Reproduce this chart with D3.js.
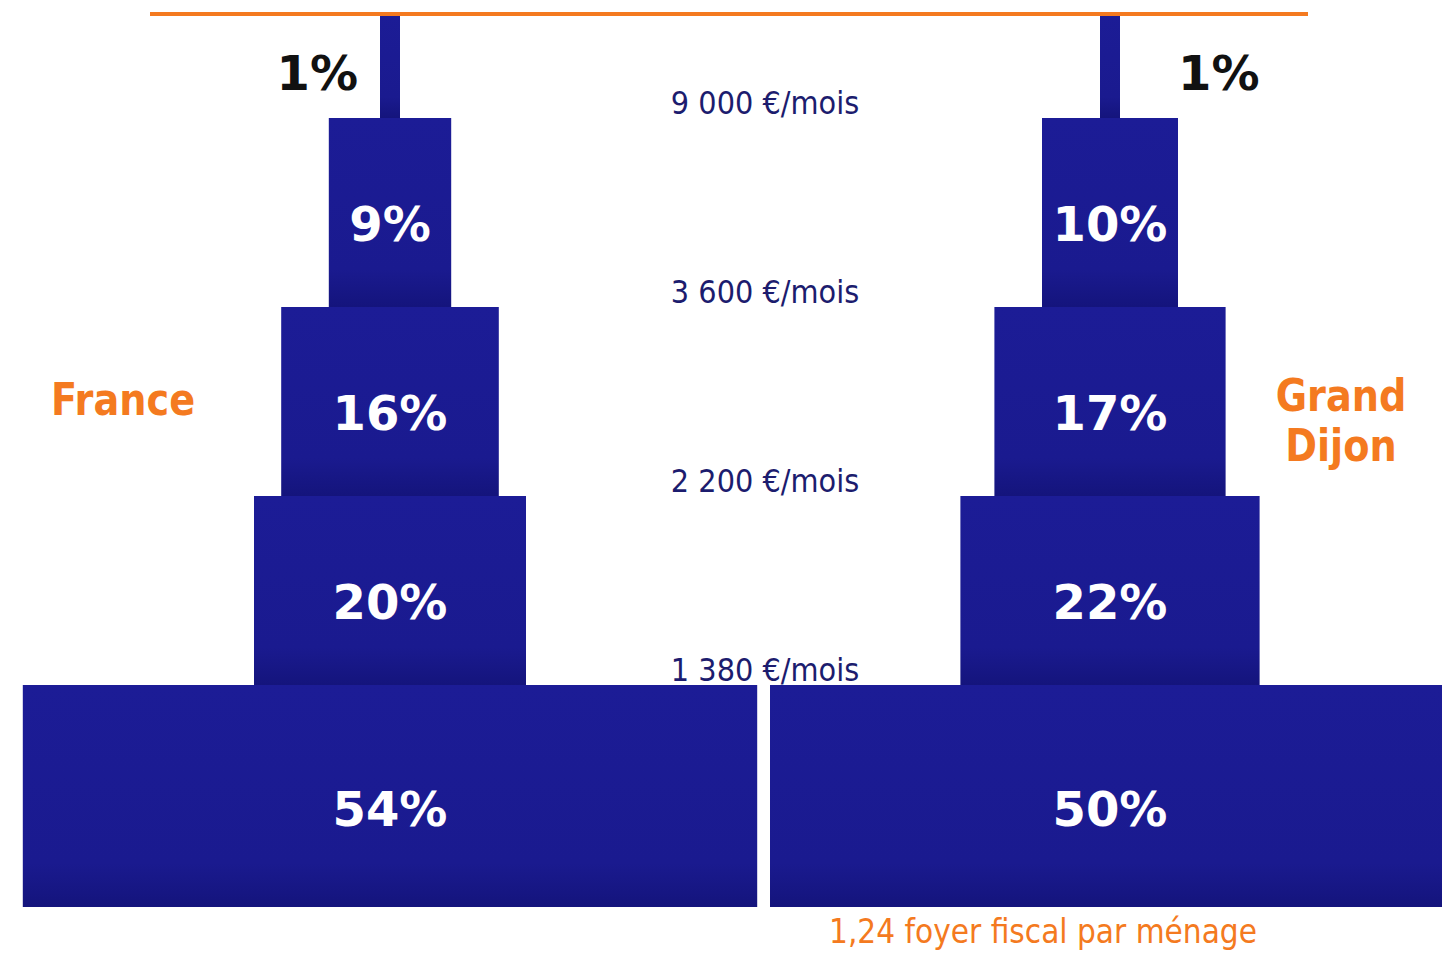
<!DOCTYPE html>
<html>
<head>
<meta charset="utf-8">
<script src="https://cdn.jsdelivr.net/npm/d3@7"></script>
<style>
  body { margin: 0; background: #fff; }
  svg { display: block; }
</style>
</head>
<body>
<div id="chart"></div>
<script>
// income bands, top to bottom
var bands = ['plus de 9 000', '3 600 - 9 000', '2 200 - 3 600', '1 380 - 2 200', 'moins de 1 380'];
var thresholds = ['9 000 €/mois', '3 600 €/mois', '2 200 €/mois', '1 380 €/mois'];
var regions = ['France', 'Grand Dijon'];
var france = [1, 9, 16, 20, 54];
var grandDijon = [1, 10, 17, 22, 50];
var footnote = '1,24 foyer fiscal par ménage';

var width = 1442, height = 955;
var lineY = 14, bottomY = 907;
var orange = '#f47a20', navy = '#1c1c6e';

var svg = d3.select('#chart')
    .append('svg')
    .attr('width', width)
    .attr('height', height);

var grad = svg.append('defs').append('linearGradient')
    .attr('id', 'blk')
    .attr('x1', 0).attr('y1', 0).attr('x2', 0).attr('y2', 1);
grad.append('stop').attr('offset', '0%').attr('stop-color', '#1c1c96');
grad.append('stop').attr('offset', '80%').attr('stop-color', '#1a1a8f');
grad.append('stop').attr('offset', '100%').attr('stop-color', '#14147c');

// width of a block is proportional to its share
var w = d3.scaleLinear().domain([0, 100]).range([0, 1360]);
var cx = d3.scalePoint().domain(regions).range([390, 1110]);
// threshold lines (index 1..4)
var yb = d3.scaleLinear().domain([1, 4]).range([118, 685]);

function rowTop(i) { return i === 0 ? lineY : yb(i); }
function rowBottom(i) { return i === bands.length - 1 ? bottomY : yb(i + 1); }

var series = [
  {name: 'France', values: france, pctSide: 'left'},
  {name: 'Grand Dijon', values: grandDijon, pctSide: 'right'}
];

series.forEach(function(s) {
  var g = svg.append('g');
  var rows = s.values.map(function(v, i) {
    var bw = Math.max(w(v), 20);
    return {band: bands[i], v: v, i: i, x: cx(s.name) - bw / 2, w: bw, y0: rowTop(i), y1: rowBottom(i)};
  });

  g.selectAll('rect')
      .data(rows)
      .join('rect')
      .attr('x', function(d) { return d.x; })
      .attr('y', function(d) { return d.y0; })
      .attr('width', function(d) { return d.w; })
      .attr('height', function(d) { return d.y1 - d.y0; })
      .attr('fill', 'url(#blk)');

  // labels inside blocks
  g.selectAll('text.pct')
      .data(rows.slice(1))
      .join('text')
      .attr('class', 'pct')
      .attr('x', function(d) { return d.x + d.w / 2; })
      .attr('y', function(d) { return d.y0 + (d.y1 - d.y0) * 0.56; })
      .attr('text-anchor', 'middle')
      .attr('dominant-baseline', 'central')
      .attr('font-family', 'DejaVu Sans, Verdana, sans-serif')
      .attr('font-weight', 'bold')
      .attr('font-size', 48)
      .attr('fill', '#fff')
      .text(function(d) { return d.v + '%'; });

  // the tiny top share sits next to its stem
  var stem = rows[0];
  var left = s.pctSide === 'left';
  g.append('text')
      .attr('x', left ? stem.x - 22 : stem.x + stem.w + 58)
      .attr('y', 90)
      .attr('text-anchor', left ? 'end' : 'start')
      .attr('font-family', 'DejaVu Sans, Verdana, sans-serif')
      .attr('font-weight', 'bold')
      .attr('font-size', 48)
      .attr('fill', '#111')
      .text(stem.v + '%');
});

// orange ceiling line
svg.append('line')
    .attr('x1', 150).attr('x2', 1308)
    .attr('y1', lineY).attr('y2', lineY)
    .attr('stroke', orange)
    .attr('stroke-width', 4);

function squeezed(x, y, sx) {
  return 'translate(' + x + ',' + y + ') scale(' + sx + ',1)';
}

// threshold labels in the middle
svg.selectAll('text.thr')
    .data(thresholds)
    .join('text')
    .attr('class', 'thr')
    .attr('transform', function(d, i) { return squeezed(765, yb(i + 1) - 4, 0.9); })
    .attr('text-anchor', 'middle')
    .attr('font-family', 'DejaVu Sans, Verdana, sans-serif')
    .attr('font-size', 32)
    .attr('fill', navy)
    .text(function(d) { return d; });

// region names
svg.append('text')
    .attr('transform', squeezed(123, 415, 0.85))
    .attr('text-anchor', 'middle')
    .attr('font-family', 'DejaVu Sans, Verdana, sans-serif')
    .attr('font-weight', 'bold')
    .attr('font-size', 45)
    .attr('fill', orange)
    .text(regions[0]);

var gd = svg.append('text')
    .attr('transform', squeezed(1341, 411, 0.85))
    .attr('text-anchor', 'middle')
    .attr('font-family', 'DejaVu Sans, Verdana, sans-serif')
    .attr('font-weight', 'bold')
    .attr('font-size', 45)
    .attr('fill', orange);
gd.selectAll('tspan')
    .data(regions[1].split(' '))
    .join('tspan')
    .attr('x', 0)
    .attr('dy', function(d, i) { return i === 0 ? 0 : 50; })
    .text(function(d) { return d; });

svg.append('text')
    .attr('transform', squeezed(1043, 943, 0.9))
    .attr('text-anchor', 'middle')
    .attr('font-family', 'DejaVu Sans, Verdana, sans-serif')
    .attr('font-size', 33)
    .attr('fill', orange)
    .text(footnote);
</script>
</body>
</html>
